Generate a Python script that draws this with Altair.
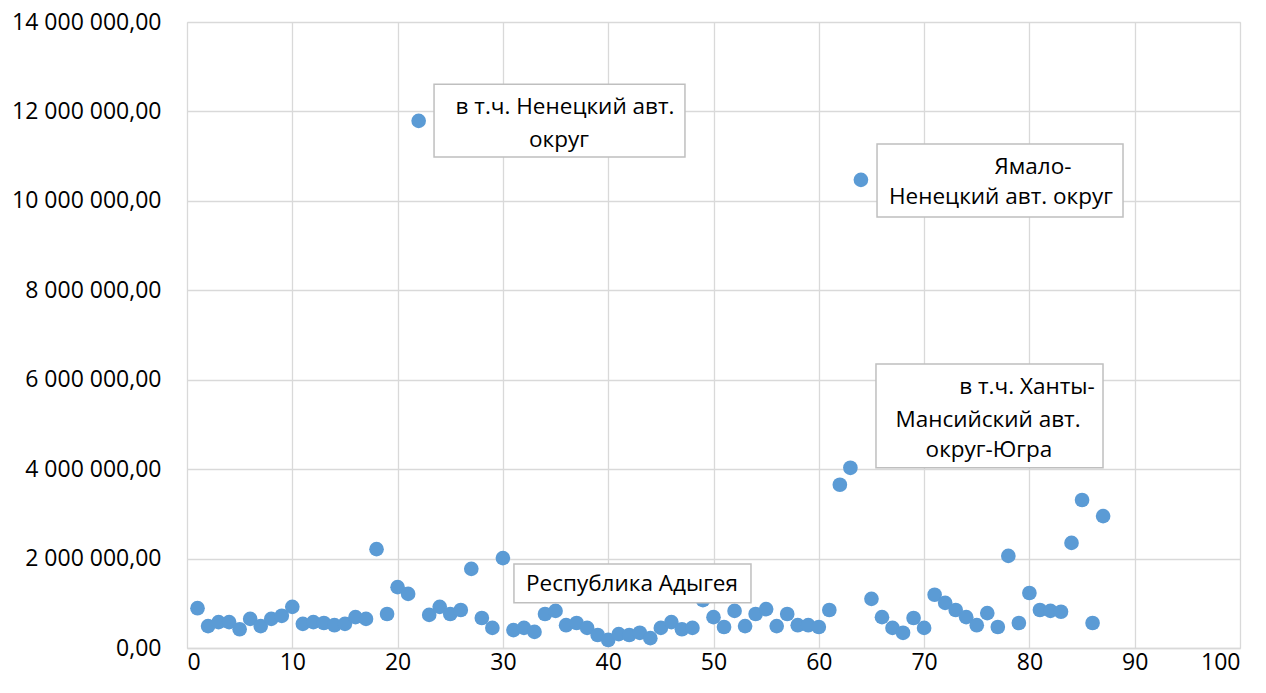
import altair as alt
import pandas as pd

# Values per region index (millions)
idx = list(range(1, 88))
vals_m = [0.89, 0.49, 0.58, 0.58, 0.42, 0.65, 0.49, 0.65, 0.72, 0.92,
          0.54, 0.58, 0.56, 0.51, 0.54, 0.69, 0.65, 2.21, 0.76, 1.36,
          1.21, 11.79, 0.74, 0.92, 0.76, 0.85, 1.77, 0.67, 0.45, 2.01,
          0.40, 0.45, 0.36, 0.76, 0.83, 0.51, 0.56, 0.45, 0.29, 0.18,
          0.31, 0.29, 0.34, 0.22, 0.45, 0.58, 0.42, 0.45, 1.07, 0.69,
          0.47, 0.83, 0.49, 0.76, 0.87, 0.49, 0.76, 0.51, 0.51, 0.47,
          0.85, 3.65, 4.03, 10.47, 1.10, 0.69, 0.45, 0.34, 0.67, 0.45,
          1.19, 1.01, 0.85, 0.69, 0.51, 0.78, 0.47, 2.06, 0.56, 1.23,
          0.85, 0.83, 0.81, 2.35, 3.31, 0.56, 2.95]
values = [v * 1e6 for v in vals_m]

# annotation boxes (data space)
box_x1 = [23.46, 65.53, 65.43, 31.05]
box_x2 = [47.29, 88.89, 86.99, 53.56]
box_ytop = [12.61e6, 11.27e6, 6.35e6, 1.88e6]
box_ybot = [10.98e6, 9.64e6, 4.03e6, 1.01e6]

# annotation text lines
txt = ["в т.ч. Ненецкий авт.", "округ", "Ямало-", "Ненецкий авт. округ",
       "в т.ч. Ханты-", "Мансийский авт.", "округ-Югра", "Республика Адыгея"]
txt_x = [35.90, 35.33, 80.34, 77.30, 79.77, 76.07, 76.16, 42.26]
txt_y = [12.10e6, 11.36e6, 10.76e6, 10.09e6, 5.84e6, 5.10e6, 4.43e6, 1.43e6]

df = pd.DataFrame({"i": idx, "v": values})
boxes = pd.DataFrame({"x1": box_x1, "x2": box_x2, "y1": box_ytop, "y2": box_ybot})
labels = pd.DataFrame({"t": txt, "x": txt_x, "y": txt_y})

FONT = "Open Sans"
xscale = alt.Scale(domain=[0, 100], nice=False, zero=False)
yscale = alt.Scale(domain=[0, 14e6], nice=False)

pts = alt.Chart(df).mark_circle(size=215, color="#5b9bd5", opacity=1).encode(
    x=alt.X("i:Q", scale=xscale,
            axis=alt.Axis(values=list(range(0, 101, 10)), title=None, grid=True,
                          gridColor="#d9d9d9", gridWidth=1.3, domain=True, domainColor="#d9d9d9",
                          domainWidth=1.5, ticks=False, labelPadding=3, labelFont=FONT,
                          labelFontSize=23, labelColor="#000000")),
    y=alt.Y("v:Q", scale=yscale,
            axis=alt.Axis(values=[i * 2e6 for i in range(8)], title=None, grid=True,
                          gridColor="#d9d9d9", gridWidth=1.3, domain=False, ticks=False,
                          labelPadding=26, labelFont=FONT, labelFontSize=23,
                          labelColor="#000000", format=",.2f")),
)

rects = alt.Chart(boxes).mark_rect(fill="white", stroke="#bfbfbf", strokeWidth=1.5).encode(
    x=alt.X("x1:Q", scale=xscale), x2="x2:Q",
    y=alt.Y("y1:Q", scale=yscale), y2="y2:Q",
)

texts = alt.Chart(labels).mark_text(font=FONT, fontSize=22.5, color="#000000",
                                    align="center", baseline="middle").encode(
    x=alt.X("x:Q", scale=xscale), y=alt.Y("y:Q", scale=yscale), text="t:N"
)

chart = alt.layer(pts, rects, texts).properties(
    width=1053, height=626,
    autosize=alt.AutoSizeParams(type="none"),
    padding={"left": 179, "top": 14, "right": 18, "bottom": 37},
).configure_view(stroke=None).configure(background="white")

chart.save("out.html", embed_options={
    "renderer": "svg", "actions": False,
    "formatLocale": {"decimal": ",", "thousands": "\u00a0", "grouping": [3],
                     "currency": ["", ""]}})
